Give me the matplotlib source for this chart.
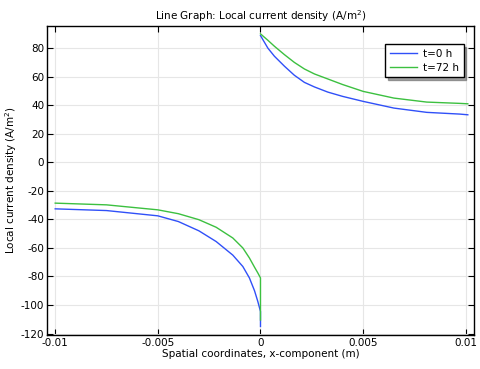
import matplotlib.pyplot as plt

# left domain (x < 0)
x_left = [-0.01, -0.0075, -0.005, -0.004, -0.003, -0.00216, -0.00135, -0.00086,
          -0.00054, -0.00029, -0.00013, 0.0, 0.0]
j0_left = [-32.6, -33.8, -37.5, -41.5, -48.0, -55.5, -65.0, -73.0,
           -81.0, -90.0, -97.5, -104.5, -115.0]
j72_left = [-28.6, -29.8, -33.3, -36.0, -40.2, -45.5, -53.0, -60.0,
            -67.0, -73.5, -77.5, -81.0, -110.5]

# right domain (x > 0)
x_right = [0.0, 0.00036, 0.00068, 0.00117, 0.00165, 0.00214, 0.00263, 0.00328,
           0.004, 0.005, 0.0065, 0.0081, 0.0097, 0.0101]
j0_right = [88.8, 80.0, 74.3, 67.3, 61.0, 56.0, 52.8, 49.2,
            46.2, 42.7, 38.0, 35.0, 33.8, 33.3]
j72_right = [90.0, 85.5, 81.3, 75.4, 70.0, 65.4, 61.9, 58.4,
             54.5, 49.7, 45.0, 42.2, 41.3, 41.0]

blue = "#3050f8"
green = "#3cc040"

plt.rcParams["font.size"] = 7.5
fig = plt.figure(figsize=(4.81, 3.69), dpi=100)
ax = fig.add_axes([0.0977, 0.0921, 0.8877, 0.8374])

ax.plot(x_left, j0_left, color=blue, lw=1.0, label="t=0 h")
ax.plot(x_right, j0_right, color=blue, lw=1.0)
ax.plot(x_left, j72_left, color=green, lw=1.0, label="t=72 h")
ax.plot(x_right, j72_right, color=green, lw=1.0)

ax.set_xlim(-0.0104, 0.0104)
ax.set_ylim(-121, 95.5)
ax.set_xticks([-0.01, -0.005, 0, 0.005, 0.01])
ax.set_xticklabels(["-0.01", "-0.005", "0", "0.005", "0.01"])
ax.set_yticks(range(-120, 81, 20))
ax.set_yticklabels([str(v) for v in range(-120, 81, 20)])
ax.tick_params(direction="in", top=True, right=True, length=4, width=0.8, pad=2)
ax.grid(True, color="#e6e6e6", lw=0.8)
ax.set_axisbelow(True)
for s in ax.spines.values():
    s.set_linewidth(1.0)

ax.set_title("Line Graph: Local current density (A/m$^2$)", fontsize=7.5, pad=4)
ax.set_xlabel("Spatial coordinates, x-component (m)", labelpad=1)
ax.set_ylabel("Local current density (A/m$^2$)", labelpad=1)

leg = ax.legend(loc="upper right", fancybox=False, shadow=True, framealpha=1,
                edgecolor="black", borderpad=0.45, handlelength=2.6,
                labelspacing=0.35, handletextpad=0.6,
                bbox_to_anchor=(0.988, 0.958))
leg.get_frame().set_linewidth(1.0)

fig.savefig("out.png", dpi=100)
